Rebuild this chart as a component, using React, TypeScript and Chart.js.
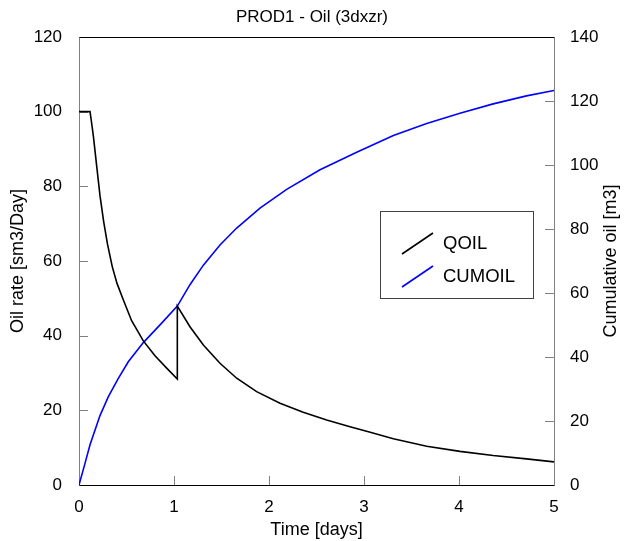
import React, { useEffect, useRef } from "react";
import { Chart, registerables } from "chart.js";

Chart.register(...registerables);

const TITLE = "PROD1 - Oil (3dxzr)";
const X_TITLE = "Time [days]";
const Y_LEFT_TITLE = "Oil rate [sm3/Day]";
const Y_RIGHT_TITLE = "Cumulative oil [m3]";
const QOIL_LABEL = "QOIL";
const CUMOIL_LABEL = "CUMOIL";

// QOIL (oil rate, left axis)
const qoilTime = [0, 0.116, 0.13, 0.151, 0.186, 0.221, 0.26, 0.3, 0.35, 0.4, 0.466, 0.554, 0.677, 0.8, 0.923, 1.035, 1.035, 1.168, 1.309, 1.484, 1.66, 1.87, 2.116, 2.36, 2.607, 2.853, 3.056, 3.309, 3.66, 4.01, 4.36, 4.71, 5];
const qoilRate = [100, 100, 97.5, 93.5, 85.5, 77.5, 70.5, 64.5, 58.5, 54.0, 49.6, 44.0, 38.6, 34.6, 31.3, 28.4, 47.9, 42.4, 37.5, 32.6, 28.6, 25.0, 21.9, 19.5, 17.4, 15.6, 14.2, 12.4, 10.4, 9.0, 7.9, 7.0, 6.2];

// CUMOIL (cumulative oil, right axis)
const cumTime = [0, 0.058, 0.116, 0.221, 0.309, 0.414, 0.519, 0.677, 0.87, 1.035, 1.168, 1.309, 1.484, 1.66, 1.905, 2.186, 2.537, 2.923, 3.309, 3.66, 4.01, 4.36, 4.71, 5];
const cumOil = [0, 6.2, 12.6, 21.7, 27.6, 33.3, 38.5, 44.5, 50.6, 55.9, 62.6, 68.7, 75.0, 80.3, 86.5, 92.4, 98.5, 104.0, 109.2, 113.0, 116.2, 119.1, 121.6, 123.3];

const xTickValues = [0, 1, 2, 3, 4, 5];
const leftTickValues = [0, 20, 40, 60, 80, 100, 120];
const rightTickValues = [0, 20, 40, 60, 80, 100, 120, 140];

const FONT = "'Liberation Sans', Arial, sans-serif";
const TICK_LEN = 9;

const framePlugin = {
  id: "frame",
  beforeDatasetsDraw(chart: any) {
    const { ctx, chartArea, scales } = chart;
    const { left, right, top, bottom } = chartArea;
    ctx.save();
    ctx.lineWidth = 1;
    ctx.strokeStyle = "#808080";
    const seg = (x1: number, y1: number, x2: number, y2: number) => {
      ctx.beginPath();
      ctx.moveTo(x1, y1);
      ctx.lineTo(x2, y2);
      ctx.stroke();
    };
    leftTickValues.forEach((v) => {
      const py = Math.round(scales.y.getPixelForValue(v)) + 0.5;
      seg(left, py, left + TICK_LEN, py);
    });
    rightTickValues.forEach((v) => {
      const py = Math.round(scales.y1.getPixelForValue(v)) + 0.5;
      seg(right - TICK_LEN, py, right, py);
    });
    xTickValues.forEach((v) => {
      const px = Math.round(scales.x.getPixelForValue(v)) + 0.5;
      seg(px, bottom, px, bottom - TICK_LEN);
    });
    const L = Math.round(left) + 0.5;
    const R = Math.round(right) + 0.5;
    const T = Math.round(top) + 0.5;
    const B = Math.round(bottom) + 0.5;
    ctx.strokeStyle = "#808080";
    seg(L, T, L, B);
    seg(R, T, R, B);
    ctx.strokeStyle = "#000000";
    seg(L, T, R, T);
    seg(L, B, R, B);
    ctx.restore();
  },
  afterDraw(chart: any) {
    const { ctx, chartArea } = chart;
    ctx.save();
    // legend box
    const bx = 380.5, by = 211.5, bw = 153, bh = 87;
    ctx.fillStyle = "#ffffff";
    ctx.fillRect(bx, by, bw, bh);
    ctx.strokeStyle = "#404040";
    ctx.lineWidth = 1;
    ctx.strokeRect(bx, by, bw, bh);
    const ds = chart.data.datasets;
    const rows = [243, 276];
    ds.forEach((d: any, i: number) => {
      const cy = rows[i];
      ctx.strokeStyle = d.borderColor;
      ctx.lineWidth = 1.6;
      ctx.beginPath();
      ctx.moveTo(402, cy + 11);
      ctx.lineTo(433, cy - 10);
      ctx.stroke();
      ctx.fillStyle = "#000000";
      ctx.font = `18.5px ${FONT}`;
      ctx.textAlign = "left";
      ctx.textBaseline = "middle";
      ctx.fillText(d.label, 443, cy + 1);
    });
    // right axis title (reads bottom to top)
    ctx.translate(611, (chartArea.top + chartArea.bottom) / 2);
    ctx.rotate(-Math.PI / 2);
    ctx.fillStyle = "#000000";
    ctx.font = `18px ${FONT}`;
    ctx.textAlign = "center";
    ctx.textBaseline = "middle";
    ctx.fillText(Y_RIGHT_TITLE, 0, 0);
    ctx.restore();
  },
};

export default function App() {
  const ref = useRef<HTMLCanvasElement | null>(null);

  useEffect(() => {
    if (!ref.current) return;
    const qoilData = qoilTime.map((t, i) => ({ x: t, y: qoilRate[i] }));
    const cumData = cumTime.map((t, i) => ({ x: t, y: cumOil[i] }));
    const tickFont = { family: FONT, size: 17 };
    const chart = new Chart(ref.current, {
      type: "line",
      data: {
        datasets: [
          {
            label: QOIL_LABEL,
            data: qoilData,
            borderColor: "#000000",
            borderWidth: 1.6,
            pointRadius: 0,
            tension: 0,
            yAxisID: "y",
          },
          {
            label: CUMOIL_LABEL,
            data: cumData,
            borderColor: "#0000ff",
            borderWidth: 1.6,
            pointRadius: 0,
            tension: 0,
            yAxisID: "y1",
          },
        ],
      },
      options: {
        responsive: false,
        animation: false,
        events: [],
        layout: { padding: 0 },
        plugins: {
          legend: { display: false },
          tooltip: { enabled: false },
          title: {
            display: true,
            text: TITLE,
            color: "#000000",
            font: { family: FONT, size: 17, weight: "normal" },
            padding: { top: 7, bottom: 9.6 },
          },
        },
        scales: {
          x: {
            type: "linear",
            min: 0,
            max: 5,
            afterFit: (s: any) => { s.height = 56; },
            afterBuildTicks: (s: any) => { s.ticks = xTickValues.map((v) => ({ value: v })); },
            ticks: { color: "#000000", font: tickFont, padding: 4, maxRotation: 0 },
            grid: { display: false },
            border: { display: false },
            title: {
              display: true,
              text: X_TITLE,
              color: "#000000",
              font: { family: FONT, size: 18 },
              padding: { top: 0, bottom: 0 },
            },
          },
          y: {
            type: "linear",
            position: "left",
            min: 0,
            max: 120,
            afterFit: (s: any) => { s.width = 79; },
            afterBuildTicks: (s: any) => { s.ticks = leftTickValues.map((v) => ({ value: v })); },
            ticks: { color: "#000000", font: tickFont, padding: 9 },
            grid: { display: false },
            border: { display: false },
            title: {
              display: true,
              text: Y_LEFT_TITLE,
              color: "#000000",
              font: { family: FONT, size: 18 },
              padding: { top: 7, bottom: 0 },
            },
          },
          y1: {
            type: "linear",
            position: "right",
            min: 0,
            max: 140,
            afterFit: (s: any) => { s.width = 70; },
            afterBuildTicks: (s: any) => { s.ticks = rightTickValues.map((v) => ({ value: v })); },
            ticks: { color: "#000000", font: tickFont, padding: 8 },
            grid: { display: false },
            border: { display: false },
            title: { display: false },
          },
        },
      },
      plugins: [framePlugin],
    });
    return () => chart.destroy();
  }, []);

  return (
    <canvas
      ref={ref}
      width={624}
      height={541}
      style={{ position: "absolute", left: 0, top: 0, display: "block", background: "#ffffff" }}
    />
  );
}
